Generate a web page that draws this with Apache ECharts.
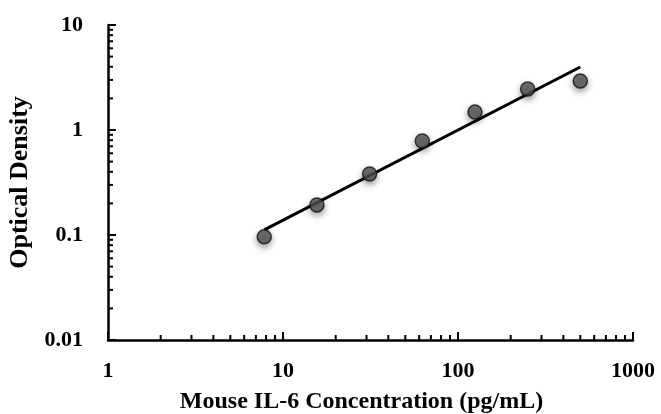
<!DOCTYPE html>
<html>
<head>
<meta charset="utf-8">
<script src="https://cdn.jsdelivr.net/npm/echarts@6/dist/echarts.min.js"></script>
<style>
  html, body { margin: 0; padding: 0; background: #fff; }
  #main { width: 661px; height: 414px; }
</style>
</head>
<body>
<div id="main"></div>
<script>
// 标准曲线数据
let concentration = [7.8125, 15.625, 31.25, 62.5, 125, 250, 500];
let density = [0.096, 0.193, 0.381, 0.785, 1.48, 2.46, 2.93];
// 趋势线两端
let fitX = [7.8125, 500];
let fitY = [0.112, 3.98];
// 坐标轴范围和次刻度
let xMin = 1, xMax = 1000;
let yMin = 0.01, yMax = 10;
let xMinor = [2, 3, 4, 5, 6, 7, 8, 9, 20, 30, 40, 50, 60, 70, 80, 90, 200, 300, 400, 500, 600, 700, 800, 900];
let yMinor = [0.02, 0.03, 0.04, 0.05, 0.06, 0.07, 0.08, 0.09, 0.2, 0.3, 0.4, 0.5, 0.6, 0.7, 0.8, 0.9, 2, 3, 4, 5, 6, 7, 8, 9];

let myChart = echarts.init(document.getElementById('main'));

let points = concentration.map((x, i) => [x, density[i]]);
let fitLine = fitX.map((x, i) => [x, fitY[i]]);

let font = 'Liberation Serif';

// 画次刻度（朝内）
function minorTick(dir) {
    return function (params, api) {
        let p = api.coord([api.value(0), api.value(1)]);
        let len = 5;
        let shape = dir === 'x'
            ? { x1: p[0], y1: p[1], x2: p[0], y2: p[1] - len }
            : { x1: p[0], y1: p[1], x2: p[0] + len, y2: p[1] };
        return {
            type: 'line',
            shape: shape,
            style: { stroke: '#000', lineWidth: 2 }
        };
    };
}

let option = {
    backgroundColor: '#fff',
    animation: false,
    grid: {
        left: 108,
        right: 28,
        top: 25,
        bottom: 74,
        containLabel: false,
        outerBoundsMode: 'none'
    },
    xAxis: {
        type: 'log',
        logBase: 10,
        min: xMin,
        max: xMax,
        name: 'Mouse IL-6 Concentration (pg/mL)',
        nameLocation: 'middle',
        nameGap: 50,
        nameTextStyle: {
            fontFamily: font,
            fontWeight: 'bold',
            fontSize: 24,
            color: '#000',
            padding: [0, 18, 0, 0]
        },
        axisLine: { lineStyle: { color: '#000', width: 2.5 } },
        axisTick: { inside: true, length: 8, lineStyle: { color: '#000', width: 2 } },
        splitLine: { show: false },
        axisLabel: {
            margin: 20,
            fontFamily: font,
            fontWeight: 'bold',
            fontSize: 22,
            color: '#000',
            formatter: function (v) { return String(v); }
        }
    },
    yAxis: {
        type: 'log',
        logBase: 10,
        min: yMin,
        max: yMax,
        name: 'Optical Density',
        nameLocation: 'middle',
        nameGap: 68,
        nameTextStyle: {
            fontFamily: font,
            fontWeight: 'bold',
            fontSize: 26,
            color: '#000'
        },
        axisLine: { show: true, lineStyle: { color: '#000', width: 2.5 } },
        axisTick: { show: true, inside: true, length: 8, lineStyle: { color: '#000', width: 2 } },
        splitLine: { show: false },
        axisLabel: {
            margin: 25,
            fontFamily: font,
            fontWeight: 'bold',
            fontSize: 22,
            color: '#000',
            formatter: function (v) { return String(v); }
        }
    },
    series: [
        {
            type: 'custom',
            renderItem: minorTick('x'),
            data: xMinor.map(v => [v, yMin]),
            clip: false,
            silent: true,
            z: 1
        },
        {
            type: 'custom',
            renderItem: minorTick('y'),
            data: yMinor.map(v => [xMin, v]),
            clip: false,
            silent: true,
            z: 1
        },
        {
            type: 'line',
            data: fitLine,
            symbol: 'none',
            lineStyle: { color: '#000', width: 3 },
            z: 2
        },
        {
            type: 'scatter',
            data: points,
            symbol: 'circle',
            symbolSize: 14,
            itemStyle: {
                color: '#555',
                borderColor: '#111',
                borderWidth: 1.5,
                shadowBlur: 6,
                shadowColor: 'rgba(0,0,0,0.45)',
                shadowOffsetY: 3
            },
            z: 3
        }
    ]
};
myChart.setOption(option);
</script>
</body>
</html>
